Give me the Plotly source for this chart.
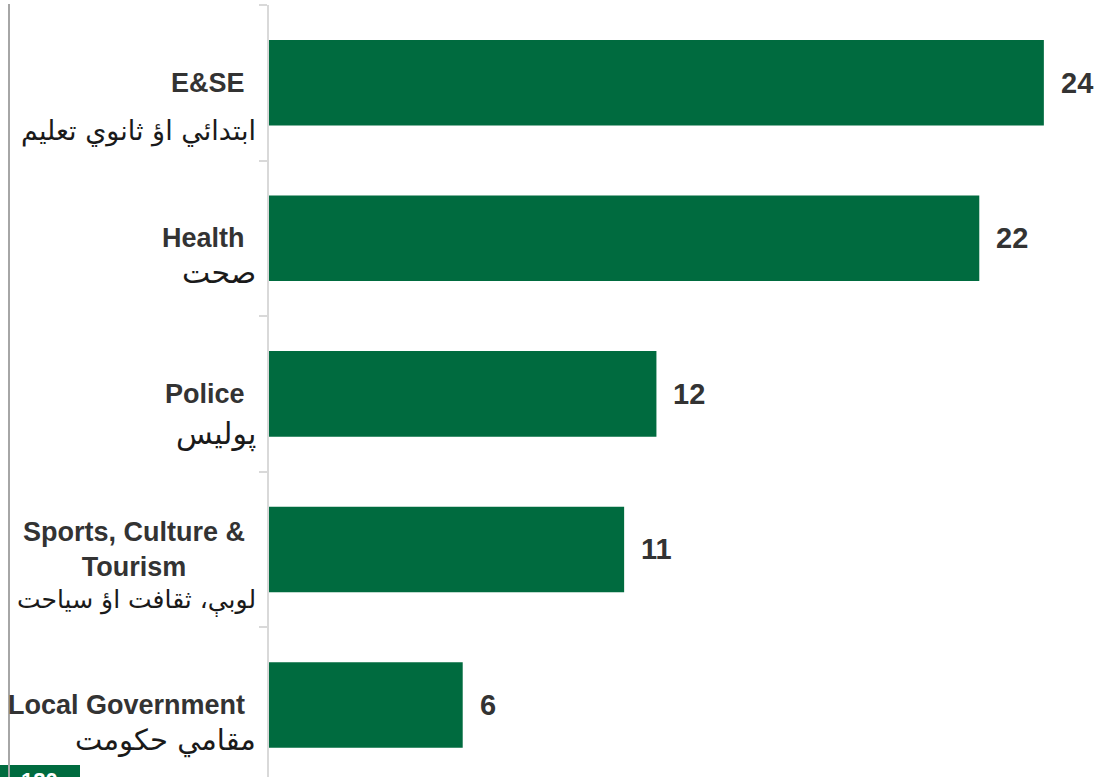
import plotly.graph_objects as go

# Department allocations (values shown at bar ends)
departments_en = ["E&SE", "Health", "Police", "Sports, Culture &<br>Tourism", "Local Government"]
departments_ps = ["ابتدائي اؤ ثانوي تعليم", "صحت", "پوليس", "لوبې، ثقافت اؤ سياحت", "مقامي حکومت"]
values = [24, 22, 12, 11, 6]
footer_label = "120"

GREEN = "#006B3F"
W, H = 1095, 777
ML, MR, MT, MB = 269, 35, 5, 0
PW = W - ML - MR
PH = H - MT - MB

cats = [str(i) for i in range(len(values))]

fig = go.Figure(go.Bar(
    x=values, y=cats, orientation="h",
    marker=dict(color=GREEN, line=dict(width=0)),
    width=0.55, hoverinfo="skip",
))

annotations = []
ps_shift = [-48, -34, -40, -52, -36]
ps_size = [27, 30, 30, 25, 29]
for c, en, ps, v, s, fs in zip(cats, departments_en, departments_ps, values, ps_shift, ps_size):
    annotations.append(dict(
        x=0, xref="paper", y=c, yref="y", xanchor="right", yanchor="middle",
        xshift=-22, text=f"<b>{en}</b>", showarrow=False, align="center",
        font=dict(family="Liberation Sans, Arial, sans-serif", size=27, color="#333333"),
    ))
    annotations.append(dict(
        x=0, xref="paper", y=c, yref="y", xanchor="right", yanchor="middle",
        xshift=-11, yshift=s, text=ps, showarrow=False,
        font=dict(family="DejaVu Sans, sans-serif", size=fs, color="#1a1a1a"),
    ))
    annotations.append(dict(
        x=v, xref="x", y=c, yref="y", xanchor="left", yanchor="middle",
        xshift=15, text=f"<b>{v}</b>", showarrow=False,
        font=dict(family="Liberation Sans, Arial, sans-serif", size=29, color="#333333"),
    ))

# Small green footer tab in the lower-left corner
annotations.append(dict(
    x=(40 - ML) / PW, xref="paper", y=-(780 - H) / PH, yref="paper",
    xanchor="center", yanchor="middle", text="<b>" + footer_label + "</b>",
    showarrow=False, font=dict(family="Liberation Sans, Arial, sans-serif", size=22, color="white"),
))

shapes = [
    # left frame line
    dict(type="line", xref="paper", yref="paper",
         x0=(9 - ML) / PW, x1=(9 - ML) / PW, y0=-0.01, y1=(H + 1 - MT) / PH,
         line=dict(color="#a6a6a6", width=2)),
    # footer tab
    dict(type="rect", xref="paper", yref="paper",
         x0=(0 - ML) / PW, x1=(80 - ML) / PW, y0=-0.02, y1=(H - 765) / PH,
         fillcolor=GREEN, line=dict(width=0), layer="below"),
]

fig.update_layout(
    width=W, height=H,
    margin=dict(l=ML, r=MR, t=MT, b=MB, pad=0),
    paper_bgcolor="white", plot_bgcolor="white",
    showlegend=False,
    xaxis=dict(range=[0, 24.5], visible=False, fixedrange=True),
    yaxis=dict(
        type="category", categoryorder="array", categoryarray=cats,
        range=[4.463, -0.5], showticklabels=False, showgrid=False, zeroline=False,
        showline=True, linecolor="#d9d9d9", linewidth=2,
        ticks="outside", tickson="boundaries", ticklen=8, tickcolor="#d9d9d9", tickwidth=2,
        fixedrange=True,
    ),
    annotations=annotations,
    shapes=shapes,
)

fig.write_html("out.html", config={"displayModeBar": False})
